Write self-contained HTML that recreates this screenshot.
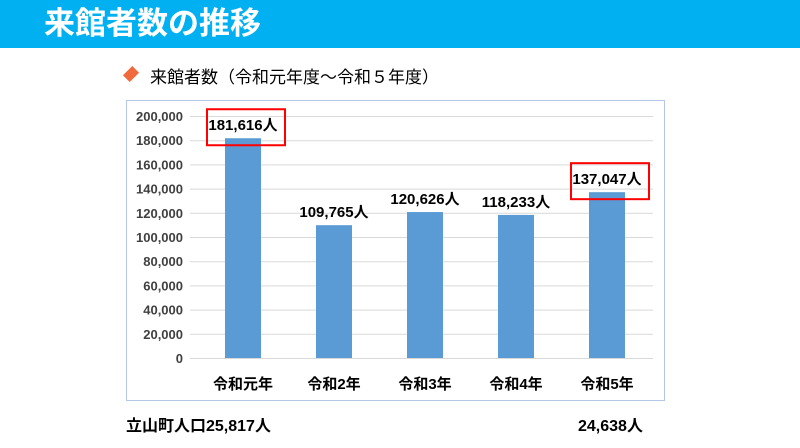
<!DOCTYPE html>
<html><head><meta charset="utf-8"><style>
body{margin:0;width:800px;height:448px;background:#fff;font-family:"Liberation Sans","Noto Sans CJK JP",sans-serif;overflow:hidden;position:relative}
.hdr{position:absolute;left:0;top:0;width:800px;height:48px;background:#00b0f0}
.ttl{position:absolute;left:44px;top:2px;color:#fff;font-size:31px;font-weight:bold;line-height:44px}
.sub{position:absolute;left:150px;top:63px;font-size:17px;color:#000}
.dia{position:absolute;left:125px;top:68px;width:12px;height:12px;background:#f06a3c;transform:rotate(45deg) scale(.8,1.1)}
.bt{position:absolute;top:412px;font-size:16px;font-weight:bold}
</style></head><body>
<div class="hdr"></div>
<div class="ttl">来館者数の推移</div>
<div class="dia"></div>
<div class="sub">来館者数（令和元年度～令和５年度）</div>
<svg id="c" width="800" height="448" style="position:absolute;left:0;top:0">
<rect x="126.5" y="100.5" width="538" height="300" fill="none" stroke="#b4c7e7"/>
</svg>
<div class="bt" style="left:126px">立山町人口25,817人</div>
<div class="bt" style="left:578px">24,638人</div>
<script>
const categories=["令和元年","令和2年","令和3年","令和4年","令和5年"];
const values=[181616,109765,120626,118233,137047];
const ticks=[0,20000,40000,60000,80000,100000,120000,140000,160000,180000,200000];
const highlighted=[0,4];
const svg=document.getElementById('c');const NS="http://www.w3.org/2000/svg";
const y=v=>358-v*(242/200000);
const x=i=>243+i*91;
function mk(t,a,txt){const e=document.createElementNS(NS,t);for(const k in a)e.setAttribute(k,a[k]);if(txt!==undefined)e.textContent=txt;svg.appendChild(e);return e;}
ticks.forEach(t=>{
 const l=mk('line',{x1:190,x2:653,y1:y(t)+.5,y2:y(t)+.5,stroke:'#d9d9d9'});
 
 
 const tx=mk('text',{x:183,y:y(t)+5,'text-anchor':'end','font-size':13,'font-weight':'bold',fill:'#404040'},t.toLocaleString('en-US'));
 
 
});
values.forEach((v,i)=>{
 const b=mk('rect',{x:x(i)-18,y:y(v),width:36,height:358-y(v),fill:'#5b9bd5'});
 
 
 const lb=mk('text',{x:x(i),y:y(v)-8,'text-anchor':'middle','font-size':15,'font-weight':'bold',fill:'#000'},v.toLocaleString('en-US')+'人');
 
 
 if(highlighted.includes(i)){
  const r=mk('rect',{x:x(i)-36,y:y(v)-29,width:78,height:36,fill:'none',stroke:'#ff0000','stroke-width':2});
  
  
 }
 const c=mk('text',{x:x(i),y:389,'text-anchor':'middle','font-size':15,'font-weight':'bold',fill:'#000'},categories[i]);
 
 
});
</script>
</body></html>
